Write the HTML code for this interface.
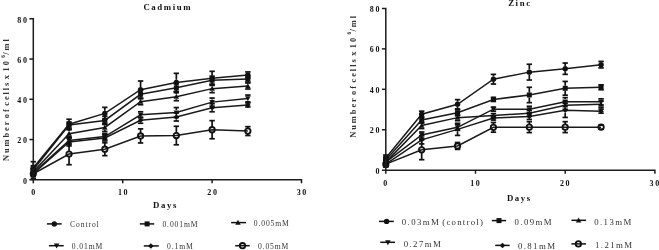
<!DOCTYPE html>
<html><head><meta charset="utf-8"><style>
html,body{margin:0;padding:0;background:#fff;width:659px;height:250px;overflow:hidden}
svg{display:block}
#wrap{width:659px;height:250px;will-change:transform}
text{font-family:"Liberation Serif", serif;fill:#111}
.tk{font-size:8px;font-weight:bold;letter-spacing:1.6px}
.ttl{font-size:8.8px;font-weight:bold;letter-spacing:1.6px}
.yl{font-size:8.4px;font-weight:bold;letter-spacing:1.95px;word-spacing:-2.5px;fill:#333}
.lg1{font-size:7.6px;letter-spacing:0.9px;fill:#333}
.lg2{font-size:8.8px;letter-spacing:1.4px;fill:#333}
</style></head><body>
<div id="wrap"><svg width="659" height="250" viewBox="0 0 659 250">
<rect width="659" height="250" fill="#fff"/>
<polyline points="33.30,167.73 69.06,124.25 104.82,113.39 140.58,89.64 176.34,82.40 212.10,78.37 247.86,74.95" fill="none" stroke="#1a1a1a" stroke-width="1.5"/>
<polyline points="33.30,169.74 69.06,125.06 104.82,120.43 140.58,94.27 176.34,87.83 212.10,80.18 247.86,78.97" fill="none" stroke="#1a1a1a" stroke-width="1.5"/>
<polyline points="33.30,171.75 69.06,133.71 104.82,127.48 140.58,101.72 176.34,96.68 212.10,88.63 247.86,86.02" fill="none" stroke="#1a1a1a" stroke-width="1.5"/>
<polyline points="33.30,172.76 69.06,140.56 104.82,136.53 140.58,114.80 176.34,112.58 212.10,102.12 247.86,98.50" fill="none" stroke="#1a1a1a" stroke-width="1.5"/>
<polyline points="33.30,173.76 69.06,141.97 104.82,137.94 140.58,120.23 176.34,117.01 212.10,107.75 247.86,104.94" fill="none" stroke="#1a1a1a" stroke-width="1.5"/>
<polyline points="33.30,173.76 69.06,154.04 104.82,149.21 140.58,135.93 176.34,135.53 212.10,129.69 247.86,131.10" fill="none" stroke="#1a1a1a" stroke-width="1.5"/>
<path d="M33.30,161.69 V165.13 M33.30,170.33 V173.76" stroke="#111" stroke-width="1.7" fill="none"/><line x1="30.60" y1="161.69" x2="36.00" y2="161.69" stroke="#111" stroke-width="1.7"/><line x1="30.60" y1="173.76" x2="36.00" y2="173.76" stroke="#111" stroke-width="1.7"/>
<path d="M69.06,119.22 V121.66 M69.06,126.85 V129.29" stroke="#111" stroke-width="1.7" fill="none"/><line x1="66.36" y1="119.22" x2="71.76" y2="119.22" stroke="#111" stroke-width="1.7"/><line x1="66.36" y1="129.29" x2="71.76" y2="129.29" stroke="#111" stroke-width="1.7"/>
<path d="M104.82,107.35 V110.79 M104.82,115.99 V119.43" stroke="#111" stroke-width="1.7" fill="none"/><line x1="102.12" y1="107.35" x2="107.52" y2="107.35" stroke="#111" stroke-width="1.7"/><line x1="102.12" y1="119.43" x2="107.52" y2="119.43" stroke="#111" stroke-width="1.7"/>
<path d="M140.58,80.99 V87.04 M140.58,92.24 V98.29" stroke="#111" stroke-width="1.7" fill="none"/><line x1="137.88" y1="80.99" x2="143.28" y2="80.99" stroke="#111" stroke-width="1.7"/><line x1="137.88" y1="98.29" x2="143.28" y2="98.29" stroke="#111" stroke-width="1.7"/>
<path d="M176.34,73.34 V79.80 M176.34,85.00 V91.45" stroke="#111" stroke-width="1.7" fill="none"/><line x1="173.64" y1="73.34" x2="179.04" y2="73.34" stroke="#111" stroke-width="1.7"/><line x1="173.64" y1="91.45" x2="179.04" y2="91.45" stroke="#111" stroke-width="1.7"/>
<path d="M212.10,71.33 V75.77 M212.10,80.97 V85.41" stroke="#111" stroke-width="1.7" fill="none"/><line x1="209.40" y1="71.33" x2="214.80" y2="71.33" stroke="#111" stroke-width="1.7"/><line x1="209.40" y1="85.41" x2="214.80" y2="85.41" stroke="#111" stroke-width="1.7"/>
<path d="M247.86,71.93 V72.35 M247.86,77.55 V77.97" stroke="#111" stroke-width="1.7" fill="none"/><line x1="245.16" y1="71.93" x2="250.56" y2="71.93" stroke="#111" stroke-width="1.7"/><line x1="245.16" y1="77.97" x2="250.56" y2="77.97" stroke="#111" stroke-width="1.7"/>
<path d="M33.30,165.71 V167.14 M33.30,172.34 V173.76" stroke="#111" stroke-width="1.7" fill="none"/><line x1="30.60" y1="165.71" x2="36.00" y2="165.71" stroke="#111" stroke-width="1.7"/><line x1="30.60" y1="173.76" x2="36.00" y2="173.76" stroke="#111" stroke-width="1.7"/>
<path d="M69.06,122.04 V122.46 M69.06,127.66 V128.08" stroke="#111" stroke-width="1.7" fill="none"/><line x1="66.36" y1="122.04" x2="71.76" y2="122.04" stroke="#111" stroke-width="1.7"/><line x1="66.36" y1="128.08" x2="71.76" y2="128.08" stroke="#111" stroke-width="1.7"/>
<path d="M104.82,116.41 V117.83 M104.82,123.03 V124.46" stroke="#111" stroke-width="1.7" fill="none"/><line x1="102.12" y1="116.41" x2="107.52" y2="116.41" stroke="#111" stroke-width="1.7"/><line x1="102.12" y1="124.46" x2="107.52" y2="124.46" stroke="#111" stroke-width="1.7"/>
<path d="M140.58,90.24 V91.67 M140.58,96.87 V98.29" stroke="#111" stroke-width="1.7" fill="none"/><line x1="137.88" y1="90.24" x2="143.28" y2="90.24" stroke="#111" stroke-width="1.7"/><line x1="137.88" y1="98.29" x2="143.28" y2="98.29" stroke="#111" stroke-width="1.7"/>
<path d="M176.34,83.80 V85.23 M176.34,90.43 V91.85" stroke="#111" stroke-width="1.7" fill="none"/><line x1="173.64" y1="83.80" x2="179.04" y2="83.80" stroke="#111" stroke-width="1.7"/><line x1="173.64" y1="91.85" x2="179.04" y2="91.85" stroke="#111" stroke-width="1.7"/>
<path d="M212.10,76.16 V77.58 M212.10,82.78 V84.21" stroke="#111" stroke-width="1.7" fill="none"/><line x1="209.40" y1="76.16" x2="214.80" y2="76.16" stroke="#111" stroke-width="1.7"/><line x1="209.40" y1="84.21" x2="214.80" y2="84.21" stroke="#111" stroke-width="1.7"/>
<path d="M247.86,75.95 V76.37 M247.86,81.57 V81.99" stroke="#111" stroke-width="1.7" fill="none"/><line x1="245.16" y1="75.95" x2="250.56" y2="75.95" stroke="#111" stroke-width="1.7"/><line x1="245.16" y1="81.99" x2="250.56" y2="81.99" stroke="#111" stroke-width="1.7"/>
<path d="M33.30,168.73 V169.15 M33.30,174.35 V174.77" stroke="#111" stroke-width="1.7" fill="none"/><line x1="30.60" y1="168.73" x2="36.00" y2="168.73" stroke="#111" stroke-width="1.7"/><line x1="30.60" y1="174.77" x2="36.00" y2="174.77" stroke="#111" stroke-width="1.7"/>
<path d="M69.06,129.69 V131.11 M69.06,136.31 V137.74" stroke="#111" stroke-width="1.7" fill="none"/><line x1="66.36" y1="129.69" x2="71.76" y2="129.69" stroke="#111" stroke-width="1.7"/><line x1="66.36" y1="137.74" x2="71.76" y2="137.74" stroke="#111" stroke-width="1.7"/>
<path d="M104.82,123.45 V124.88 M104.82,130.07 V131.50" stroke="#111" stroke-width="1.7" fill="none"/><line x1="102.12" y1="123.45" x2="107.52" y2="123.45" stroke="#111" stroke-width="1.7"/><line x1="102.12" y1="131.50" x2="107.52" y2="131.50" stroke="#111" stroke-width="1.7"/>
<path d="M140.58,98.70 V99.12 M140.58,104.31 V104.73" stroke="#111" stroke-width="1.7" fill="none"/><line x1="137.88" y1="98.70" x2="143.28" y2="98.70" stroke="#111" stroke-width="1.7"/><line x1="137.88" y1="104.73" x2="143.28" y2="104.73" stroke="#111" stroke-width="1.7"/>
<path d="M176.34,92.66 V94.08 M176.34,99.28 V100.71" stroke="#111" stroke-width="1.7" fill="none"/><line x1="173.64" y1="92.66" x2="179.04" y2="92.66" stroke="#111" stroke-width="1.7"/><line x1="173.64" y1="100.71" x2="179.04" y2="100.71" stroke="#111" stroke-width="1.7"/>
<path d="M212.10,84.61 V86.03 M212.10,91.23 V92.66" stroke="#111" stroke-width="1.7" fill="none"/><line x1="209.40" y1="84.61" x2="214.80" y2="84.61" stroke="#111" stroke-width="1.7"/><line x1="209.40" y1="92.66" x2="214.80" y2="92.66" stroke="#111" stroke-width="1.7"/>
<path d="M247.86,83.00 V83.42 M247.86,88.62 V89.04" stroke="#111" stroke-width="1.7" fill="none"/><line x1="245.16" y1="83.00" x2="250.56" y2="83.00" stroke="#111" stroke-width="1.7"/><line x1="245.16" y1="89.04" x2="250.56" y2="89.04" stroke="#111" stroke-width="1.7"/>
<path d="M33.30,169.74 V170.16 M33.30,175.36 V175.78" stroke="#111" stroke-width="1.7" fill="none"/><line x1="30.60" y1="169.74" x2="36.00" y2="169.74" stroke="#111" stroke-width="1.7"/><line x1="30.60" y1="175.78" x2="36.00" y2="175.78" stroke="#111" stroke-width="1.7"/>
<path d="M69.06,136.53 V137.96 M69.06,143.16 V144.58" stroke="#111" stroke-width="1.7" fill="none"/><line x1="66.36" y1="136.53" x2="71.76" y2="136.53" stroke="#111" stroke-width="1.7"/><line x1="66.36" y1="144.58" x2="71.76" y2="144.58" stroke="#111" stroke-width="1.7"/>
<path d="M104.82,133.51 V133.93 M104.82,139.13 V139.55" stroke="#111" stroke-width="1.7" fill="none"/><line x1="102.12" y1="133.51" x2="107.52" y2="133.51" stroke="#111" stroke-width="1.7"/><line x1="102.12" y1="139.55" x2="107.52" y2="139.55" stroke="#111" stroke-width="1.7"/>
<path d="M140.58,111.78 V112.20 M140.58,117.40 V117.82" stroke="#111" stroke-width="1.7" fill="none"/><line x1="137.88" y1="111.78" x2="143.28" y2="111.78" stroke="#111" stroke-width="1.7"/><line x1="137.88" y1="117.82" x2="143.28" y2="117.82" stroke="#111" stroke-width="1.7"/>
<path d="M176.34,107.55 V109.98 M176.34,115.18 V117.61" stroke="#111" stroke-width="1.7" fill="none"/><line x1="173.64" y1="107.55" x2="179.04" y2="107.55" stroke="#111" stroke-width="1.7"/><line x1="173.64" y1="117.61" x2="179.04" y2="117.61" stroke="#111" stroke-width="1.7"/>
<path d="M212.10,98.09 V99.52 M212.10,104.72 V106.14" stroke="#111" stroke-width="1.7" fill="none"/><line x1="209.40" y1="98.09" x2="214.80" y2="98.09" stroke="#111" stroke-width="1.7"/><line x1="209.40" y1="106.14" x2="214.80" y2="106.14" stroke="#111" stroke-width="1.7"/>
<path d="M247.86,95.07 V95.90 M247.86,101.09 V101.92" stroke="#111" stroke-width="1.7" fill="none"/><line x1="245.16" y1="95.07" x2="250.56" y2="95.07" stroke="#111" stroke-width="1.7"/><line x1="245.16" y1="101.92" x2="250.56" y2="101.92" stroke="#111" stroke-width="1.7"/>
<path d="M33.30,168.73 V171.16 M33.30,176.36 V178.79" stroke="#111" stroke-width="1.7" fill="none"/><line x1="30.60" y1="168.73" x2="36.00" y2="168.73" stroke="#111" stroke-width="1.7"/><line x1="30.60" y1="178.79" x2="36.00" y2="178.79" stroke="#111" stroke-width="1.7"/>
<path d="M69.06,137.94 V139.37 M69.06,144.56 V145.99" stroke="#111" stroke-width="1.7" fill="none"/><line x1="66.36" y1="137.94" x2="71.76" y2="137.94" stroke="#111" stroke-width="1.7"/><line x1="66.36" y1="145.99" x2="71.76" y2="145.99" stroke="#111" stroke-width="1.7"/>
<path d="M104.82,134.92 V135.34 M104.82,140.54 V140.96" stroke="#111" stroke-width="1.7" fill="none"/><line x1="102.12" y1="134.92" x2="107.52" y2="134.92" stroke="#111" stroke-width="1.7"/><line x1="102.12" y1="140.96" x2="107.52" y2="140.96" stroke="#111" stroke-width="1.7"/>
<path d="M140.58,117.21 V117.63 M140.58,122.83 V123.25" stroke="#111" stroke-width="1.7" fill="none"/><line x1="137.88" y1="117.21" x2="143.28" y2="117.21" stroke="#111" stroke-width="1.7"/><line x1="137.88" y1="123.25" x2="143.28" y2="123.25" stroke="#111" stroke-width="1.7"/>
<path d="M176.34,112.98 V114.41 M176.34,119.61 V121.04" stroke="#111" stroke-width="1.7" fill="none"/><line x1="173.64" y1="112.98" x2="179.04" y2="112.98" stroke="#111" stroke-width="1.7"/><line x1="173.64" y1="121.04" x2="179.04" y2="121.04" stroke="#111" stroke-width="1.7"/>
<path d="M212.10,103.73 V105.15 M212.10,110.35 V111.78" stroke="#111" stroke-width="1.7" fill="none"/><line x1="209.40" y1="103.73" x2="214.80" y2="103.73" stroke="#111" stroke-width="1.7"/><line x1="209.40" y1="111.78" x2="214.80" y2="111.78" stroke="#111" stroke-width="1.7"/>
<path d="M247.86,102.92 V102.34 M247.86,107.53 V106.95" stroke="#111" stroke-width="1.7" fill="none"/><line x1="245.16" y1="102.92" x2="250.56" y2="102.92" stroke="#111" stroke-width="1.7"/><line x1="245.16" y1="106.95" x2="250.56" y2="106.95" stroke="#111" stroke-width="1.7"/>
<path d="M33.30,170.74 V171.16 M33.30,176.36 V176.78" stroke="#111" stroke-width="1.7" fill="none"/><line x1="30.60" y1="170.74" x2="36.00" y2="170.74" stroke="#111" stroke-width="1.7"/><line x1="30.60" y1="176.78" x2="36.00" y2="176.78" stroke="#111" stroke-width="1.7"/>
<path d="M69.06,143.37 V151.44 M69.06,156.64 V164.71" stroke="#111" stroke-width="1.7" fill="none"/><line x1="66.36" y1="143.37" x2="71.76" y2="143.37" stroke="#111" stroke-width="1.7"/><line x1="66.36" y1="164.71" x2="71.76" y2="164.71" stroke="#111" stroke-width="1.7"/>
<path d="M104.82,142.77 V146.61 M104.82,151.81 V155.65" stroke="#111" stroke-width="1.7" fill="none"/><line x1="102.12" y1="142.77" x2="107.52" y2="142.77" stroke="#111" stroke-width="1.7"/><line x1="102.12" y1="155.65" x2="107.52" y2="155.65" stroke="#111" stroke-width="1.7"/>
<path d="M140.58,128.88 V133.33 M140.58,138.53 V142.97" stroke="#111" stroke-width="1.7" fill="none"/><line x1="137.88" y1="128.88" x2="143.28" y2="128.88" stroke="#111" stroke-width="1.7"/><line x1="137.88" y1="142.97" x2="143.28" y2="142.97" stroke="#111" stroke-width="1.7"/>
<path d="M176.34,126.27 V132.93 M176.34,138.13 V144.78" stroke="#111" stroke-width="1.7" fill="none"/><line x1="173.64" y1="126.27" x2="179.04" y2="126.27" stroke="#111" stroke-width="1.7"/><line x1="173.64" y1="144.78" x2="179.04" y2="144.78" stroke="#111" stroke-width="1.7"/>
<path d="M212.10,120.63 V127.09 M212.10,132.29 V138.75" stroke="#111" stroke-width="1.7" fill="none"/><line x1="209.40" y1="120.63" x2="214.80" y2="120.63" stroke="#111" stroke-width="1.7"/><line x1="209.40" y1="138.75" x2="214.80" y2="138.75" stroke="#111" stroke-width="1.7"/>
<path d="M247.86,126.67 V128.50 M247.86,133.70 V135.53" stroke="#111" stroke-width="1.7" fill="none"/><line x1="245.16" y1="126.67" x2="250.56" y2="126.67" stroke="#111" stroke-width="1.7"/><line x1="245.16" y1="135.53" x2="250.56" y2="135.53" stroke="#111" stroke-width="1.7"/>
<circle cx="33.30" cy="173.76" r="2.70" fill="none" stroke="#111" stroke-width="1.8"/>
<circle cx="69.06" cy="154.04" r="2.70" fill="none" stroke="#111" stroke-width="1.8"/>
<circle cx="104.82" cy="149.21" r="2.70" fill="none" stroke="#111" stroke-width="1.8"/>
<circle cx="140.58" cy="135.93" r="2.70" fill="none" stroke="#111" stroke-width="1.8"/>
<circle cx="176.34" cy="135.53" r="2.70" fill="none" stroke="#111" stroke-width="1.8"/>
<circle cx="212.10" cy="129.69" r="2.70" fill="none" stroke="#111" stroke-width="1.8"/>
<circle cx="247.86" cy="131.10" r="2.70" fill="none" stroke="#111" stroke-width="1.8"/>
<path d="M33.30,171.01 L36.05,173.76 L33.30,176.51 L30.55,173.76Z" fill="#111"/>
<path d="M69.06,139.22 L71.81,141.97 L69.06,144.72 L66.31,141.97Z" fill="#111"/>
<path d="M104.82,135.19 L107.57,137.94 L104.82,140.69 L102.07,137.94Z" fill="#111"/>
<path d="M140.58,117.48 L143.33,120.23 L140.58,122.98 L137.83,120.23Z" fill="#111"/>
<path d="M176.34,114.26 L179.09,117.01 L176.34,119.76 L173.59,117.01Z" fill="#111"/>
<path d="M212.10,105.00 L214.85,107.75 L212.10,110.50 L209.35,107.75Z" fill="#111"/>
<path d="M247.86,102.19 L250.61,104.94 L247.86,107.69 L245.11,104.94Z" fill="#111"/>
<path d="M33.30,175.63 L36.05,170.60 L30.55,170.60Z" fill="#111"/>
<path d="M69.06,143.43 L71.81,138.40 L66.31,138.40Z" fill="#111"/>
<path d="M104.82,139.41 L107.57,134.38 L102.07,134.38Z" fill="#111"/>
<path d="M140.58,117.67 L143.33,112.64 L137.83,112.64Z" fill="#111"/>
<path d="M176.34,115.46 L179.09,110.43 L173.59,110.43Z" fill="#111"/>
<path d="M212.10,104.99 L214.85,99.96 L209.35,99.96Z" fill="#111"/>
<path d="M247.86,101.37 L250.61,96.34 L245.11,96.34Z" fill="#111"/>
<path d="M33.30,168.88 L36.05,173.91 L30.55,173.91Z" fill="#111"/>
<path d="M69.06,130.84 L71.81,135.87 L66.31,135.87Z" fill="#111"/>
<path d="M104.82,124.60 L107.57,129.63 L102.07,129.63Z" fill="#111"/>
<path d="M140.58,98.84 L143.33,103.87 L137.83,103.87Z" fill="#111"/>
<path d="M176.34,93.81 L179.09,98.84 L173.59,98.84Z" fill="#111"/>
<path d="M212.10,85.76 L214.85,90.79 L209.35,90.79Z" fill="#111"/>
<path d="M247.86,83.14 L250.61,88.17 L245.11,88.17Z" fill="#111"/>
<rect x="30.80" y="167.24" width="5.00" height="5.00" fill="#111"/>
<rect x="66.56" y="122.56" width="5.00" height="5.00" fill="#111"/>
<rect x="102.32" y="117.93" width="5.00" height="5.00" fill="#111"/>
<rect x="138.08" y="91.77" width="5.00" height="5.00" fill="#111"/>
<rect x="173.84" y="85.33" width="5.00" height="5.00" fill="#111"/>
<rect x="209.60" y="77.68" width="5.00" height="5.00" fill="#111"/>
<rect x="245.36" y="76.47" width="5.00" height="5.00" fill="#111"/>
<circle cx="33.30" cy="167.73" r="2.70" fill="#111"/>
<circle cx="69.06" cy="124.25" r="2.70" fill="#111"/>
<circle cx="104.82" cy="113.39" r="2.70" fill="#111"/>
<circle cx="140.58" cy="89.64" r="2.70" fill="#111"/>
<circle cx="176.34" cy="82.40" r="2.70" fill="#111"/>
<circle cx="212.10" cy="78.37" r="2.70" fill="#111"/>
<circle cx="247.86" cy="74.95" r="2.70" fill="#111"/>
<path d="M29.40,18.80 H33.30 V179.80 H301.50 V183.30" fill="none" stroke="#1c1c1c" stroke-width="1.5"/>
<line x1="29.40" y1="179.80" x2="33.30" y2="179.80" stroke="#1c1c1c" stroke-width="1.5"/>
<line x1="29.40" y1="139.55" x2="33.30" y2="139.55" stroke="#1c1c1c" stroke-width="1.5"/>
<line x1="29.40" y1="99.30" x2="33.30" y2="99.30" stroke="#1c1c1c" stroke-width="1.5"/>
<line x1="29.40" y1="59.05" x2="33.30" y2="59.05" stroke="#1c1c1c" stroke-width="1.5"/>
<line x1="33.30" y1="179.80" x2="33.30" y2="183.30" stroke="#1c1c1c" stroke-width="1.5"/>
<line x1="122.70" y1="179.80" x2="122.70" y2="183.30" stroke="#1c1c1c" stroke-width="1.5"/>
<line x1="212.10" y1="179.80" x2="212.10" y2="183.30" stroke="#1c1c1c" stroke-width="1.5"/>
<text x="28.50" y="183.60" text-anchor="end" class="tk">0</text>
<text x="28.50" y="143.35" text-anchor="end" class="tk">20</text>
<text x="28.50" y="103.10" text-anchor="end" class="tk">40</text>
<text x="28.50" y="62.85" text-anchor="end" class="tk">60</text>
<text x="28.50" y="22.60" text-anchor="end" class="tk">80</text>
<text x="34.10" y="194.80" text-anchor="middle" class="tk">0</text>
<text x="123.50" y="194.80" text-anchor="middle" class="tk">10</text>
<text x="212.90" y="194.80" text-anchor="middle" class="tk">20</text>
<text x="302.30" y="194.80" text-anchor="middle" class="tk">30</text>
<text x="167.80" y="10.20" text-anchor="middle" class="ttl">Cadmium</text>
<text x="165.60" y="207.80" text-anchor="middle" class="ttl">Days</text>
<text transform="translate(9.30,161.06) rotate(-90)" class="yl">Number of cells x 10<tspan dx="1.3" dy="-4.8" font-size="5.2px">6</tspan><tspan dx="-1.4" dy="4.8">/ml</tspan></text>
<line x1="46.90" y1="223.90" x2="61.70" y2="223.90" stroke="#111" stroke-width="1.5"/>
<circle cx="54.30" cy="223.90" r="2.70" fill="#111"/>
<text x="70.10" y="226.80" class="lg1">Control</text>
<line x1="139.80" y1="223.90" x2="154.20" y2="223.90" stroke="#111" stroke-width="1.5"/>
<rect x="144.60" y="221.40" width="5.00" height="5.00" fill="#111"/>
<text x="162.40" y="227.00" class="lg1">0.001mM</text>
<line x1="231.10" y1="222.60" x2="246.00" y2="222.60" stroke="#111" stroke-width="1.5"/>
<path d="M238.00,219.72 L240.75,224.76 L235.25,224.76Z" fill="#111"/>
<text x="253.70" y="225.90" class="lg1">0.005mM</text>
<line x1="48.90" y1="245.70" x2="63.70" y2="245.70" stroke="#111" stroke-width="1.5"/>
<path d="M56.60,248.57 L59.35,243.54 L53.85,243.54Z" fill="#111"/>
<text x="71.80" y="249.00" class="lg1">0.01mM</text>
<line x1="143.80" y1="245.90" x2="158.80" y2="245.90" stroke="#111" stroke-width="1.5"/>
<path d="M150.90,243.15 L153.65,245.90 L150.90,248.65 L148.15,245.90Z" fill="#111"/>
<text x="167.00" y="249.00" class="lg1">0.1mM</text>
<line x1="235.20" y1="245.70" x2="249.70" y2="245.70" stroke="#111" stroke-width="1.5"/>
<circle cx="242.50" cy="245.70" r="2.70" fill="none" stroke="#111" stroke-width="1.8"/>
<text x="257.90" y="249.00" class="lg1">0.05mM</text>
<polyline points="385.80,158.07 421.68,114.19 457.56,104.28 493.44,79.21 529.32,72.13 565.20,68.70 601.08,64.65" fill="none" stroke="#1a1a1a" stroke-width="1.5"/>
<polyline points="385.80,160.09 421.68,120.05 457.56,112.78 493.44,99.43 529.32,94.98 565.20,88.31 601.08,87.30" fill="none" stroke="#1a1a1a" stroke-width="1.5"/>
<polyline points="385.80,162.11 421.68,125.51 457.56,117.63 493.44,115.61 529.32,113.18 565.20,105.29 601.08,104.28" fill="none" stroke="#1a1a1a" stroke-width="1.5"/>
<polyline points="385.80,162.11 421.68,135.02 457.56,127.33 493.44,109.14 529.32,109.34 565.20,101.65 601.08,101.86" fill="none" stroke="#1a1a1a" stroke-width="1.5"/>
<polyline points="385.80,164.13 421.68,139.87 457.56,129.36 493.44,118.03 529.32,116.41 565.20,110.35 601.08,111.16" fill="none" stroke="#1a1a1a" stroke-width="1.5"/>
<polyline points="385.80,164.13 421.68,149.78 457.56,145.94 493.44,127.33 529.32,127.13 565.20,127.13 601.08,127.13" fill="none" stroke="#1a1a1a" stroke-width="1.5"/>
<path d="M385.80,155.03 V155.47 M385.80,160.67 V161.10" stroke="#111" stroke-width="1.7" fill="none"/><line x1="383.10" y1="155.03" x2="388.50" y2="155.03" stroke="#111" stroke-width="1.7"/><line x1="383.10" y1="161.10" x2="388.50" y2="161.10" stroke="#111" stroke-width="1.7"/>
<path d="M421.68,111.16 V111.59 M421.68,116.79 V117.22" stroke="#111" stroke-width="1.7" fill="none"/><line x1="418.98" y1="111.16" x2="424.38" y2="111.16" stroke="#111" stroke-width="1.7"/><line x1="418.98" y1="117.22" x2="424.38" y2="117.22" stroke="#111" stroke-width="1.7"/>
<path d="M457.56,99.63 V101.68 M457.56,106.88 V108.93" stroke="#111" stroke-width="1.7" fill="none"/><line x1="454.86" y1="99.63" x2="460.26" y2="99.63" stroke="#111" stroke-width="1.7"/><line x1="454.86" y1="108.93" x2="460.26" y2="108.93" stroke="#111" stroke-width="1.7"/>
<path d="M493.44,74.36 V76.61 M493.44,81.81 V84.06" stroke="#111" stroke-width="1.7" fill="none"/><line x1="490.74" y1="74.36" x2="496.14" y2="74.36" stroke="#111" stroke-width="1.7"/><line x1="490.74" y1="84.06" x2="496.14" y2="84.06" stroke="#111" stroke-width="1.7"/>
<path d="M529.32,64.25 V69.53 M529.32,74.73 V80.02" stroke="#111" stroke-width="1.7" fill="none"/><line x1="526.62" y1="64.25" x2="532.02" y2="64.25" stroke="#111" stroke-width="1.7"/><line x1="526.62" y1="80.02" x2="532.02" y2="80.02" stroke="#111" stroke-width="1.7"/>
<path d="M565.20,63.03 V66.10 M565.20,71.30 V74.36" stroke="#111" stroke-width="1.7" fill="none"/><line x1="562.50" y1="63.03" x2="567.90" y2="63.03" stroke="#111" stroke-width="1.7"/><line x1="562.50" y1="74.36" x2="567.90" y2="74.36" stroke="#111" stroke-width="1.7"/>
<path d="M601.08,61.42 V62.05 M601.08,67.25 V67.89" stroke="#111" stroke-width="1.7" fill="none"/><line x1="598.38" y1="61.42" x2="603.78" y2="61.42" stroke="#111" stroke-width="1.7"/><line x1="598.38" y1="67.89" x2="603.78" y2="67.89" stroke="#111" stroke-width="1.7"/>
<path d="M385.80,157.06 V157.49 M385.80,162.69 V163.12" stroke="#111" stroke-width="1.7" fill="none"/><line x1="383.10" y1="157.06" x2="388.50" y2="157.06" stroke="#111" stroke-width="1.7"/><line x1="383.10" y1="163.12" x2="388.50" y2="163.12" stroke="#111" stroke-width="1.7"/>
<path d="M421.68,117.02 V117.45 M421.68,122.65 V123.09" stroke="#111" stroke-width="1.7" fill="none"/><line x1="418.98" y1="117.02" x2="424.38" y2="117.02" stroke="#111" stroke-width="1.7"/><line x1="418.98" y1="123.09" x2="424.38" y2="123.09" stroke="#111" stroke-width="1.7"/>
<path d="M457.56,109.74 V110.18 M457.56,115.38 V115.81" stroke="#111" stroke-width="1.7" fill="none"/><line x1="454.86" y1="109.74" x2="460.26" y2="109.74" stroke="#111" stroke-width="1.7"/><line x1="454.86" y1="115.81" x2="460.26" y2="115.81" stroke="#111" stroke-width="1.7"/>
<path d="M493.44,97.41 V96.83 M493.44,102.03 V101.45" stroke="#111" stroke-width="1.7" fill="none"/><line x1="490.74" y1="97.41" x2="496.14" y2="97.41" stroke="#111" stroke-width="1.7"/><line x1="490.74" y1="101.45" x2="496.14" y2="101.45" stroke="#111" stroke-width="1.7"/>
<path d="M529.32,87.30 V92.38 M529.32,97.58 V102.67" stroke="#111" stroke-width="1.7" fill="none"/><line x1="526.62" y1="87.30" x2="532.02" y2="87.30" stroke="#111" stroke-width="1.7"/><line x1="526.62" y1="102.67" x2="532.02" y2="102.67" stroke="#111" stroke-width="1.7"/>
<path d="M565.20,81.43 V85.71 M565.20,90.91 V95.18" stroke="#111" stroke-width="1.7" fill="none"/><line x1="562.50" y1="81.43" x2="567.90" y2="81.43" stroke="#111" stroke-width="1.7"/><line x1="562.50" y1="95.18" x2="567.90" y2="95.18" stroke="#111" stroke-width="1.7"/>
<path d="M601.08,84.87 V84.70 M601.08,89.90 V89.72" stroke="#111" stroke-width="1.7" fill="none"/><line x1="598.38" y1="84.87" x2="603.78" y2="84.87" stroke="#111" stroke-width="1.7"/><line x1="598.38" y1="89.72" x2="603.78" y2="89.72" stroke="#111" stroke-width="1.7"/>
<path d="M385.80,160.09 V159.51 M385.80,164.71 V164.13" stroke="#111" stroke-width="1.7" fill="none"/><line x1="383.10" y1="160.09" x2="388.50" y2="160.09" stroke="#111" stroke-width="1.7"/><line x1="383.10" y1="164.13" x2="388.50" y2="164.13" stroke="#111" stroke-width="1.7"/>
<path d="M421.68,122.48 V122.91 M421.68,128.11 V128.55" stroke="#111" stroke-width="1.7" fill="none"/><line x1="418.98" y1="122.48" x2="424.38" y2="122.48" stroke="#111" stroke-width="1.7"/><line x1="418.98" y1="128.55" x2="424.38" y2="128.55" stroke="#111" stroke-width="1.7"/>
<path d="M457.56,114.59 V115.03 M457.56,120.23 V120.66" stroke="#111" stroke-width="1.7" fill="none"/><line x1="454.86" y1="114.59" x2="460.26" y2="114.59" stroke="#111" stroke-width="1.7"/><line x1="454.86" y1="120.66" x2="460.26" y2="120.66" stroke="#111" stroke-width="1.7"/>
<path d="M493.44,113.58 V113.01 M493.44,118.21 V117.63" stroke="#111" stroke-width="1.7" fill="none"/><line x1="490.74" y1="113.58" x2="496.14" y2="113.58" stroke="#111" stroke-width="1.7"/><line x1="490.74" y1="117.63" x2="496.14" y2="117.63" stroke="#111" stroke-width="1.7"/>
<path d="M529.32,110.15 V110.58 M529.32,115.78 V116.21" stroke="#111" stroke-width="1.7" fill="none"/><line x1="526.62" y1="110.15" x2="532.02" y2="110.15" stroke="#111" stroke-width="1.7"/><line x1="526.62" y1="116.21" x2="532.02" y2="116.21" stroke="#111" stroke-width="1.7"/>
<path d="M565.20,101.25 V102.69 M565.20,107.89 V109.34" stroke="#111" stroke-width="1.7" fill="none"/><line x1="562.50" y1="101.25" x2="567.90" y2="101.25" stroke="#111" stroke-width="1.7"/><line x1="562.50" y1="109.34" x2="567.90" y2="109.34" stroke="#111" stroke-width="1.7"/>
<path d="M601.08,101.25 V101.68 M601.08,106.88 V107.32" stroke="#111" stroke-width="1.7" fill="none"/><line x1="598.38" y1="101.25" x2="603.78" y2="101.25" stroke="#111" stroke-width="1.7"/><line x1="598.38" y1="107.32" x2="603.78" y2="107.32" stroke="#111" stroke-width="1.7"/>
<path d="M385.80,160.09 V159.51 M385.80,164.71 V164.13" stroke="#111" stroke-width="1.7" fill="none"/><line x1="383.10" y1="160.09" x2="388.50" y2="160.09" stroke="#111" stroke-width="1.7"/><line x1="383.10" y1="164.13" x2="388.50" y2="164.13" stroke="#111" stroke-width="1.7"/>
<path d="M421.68,131.98 V132.42 M421.68,137.62 V138.05" stroke="#111" stroke-width="1.7" fill="none"/><line x1="418.98" y1="131.98" x2="424.38" y2="131.98" stroke="#111" stroke-width="1.7"/><line x1="418.98" y1="138.05" x2="424.38" y2="138.05" stroke="#111" stroke-width="1.7"/>
<path d="M457.56,124.30 V124.73 M457.56,129.93 V130.37" stroke="#111" stroke-width="1.7" fill="none"/><line x1="454.86" y1="124.30" x2="460.26" y2="124.30" stroke="#111" stroke-width="1.7"/><line x1="454.86" y1="130.37" x2="460.26" y2="130.37" stroke="#111" stroke-width="1.7"/>
<path d="M493.44,107.11 V106.54 M493.44,111.74 V111.16" stroke="#111" stroke-width="1.7" fill="none"/><line x1="490.74" y1="107.11" x2="496.14" y2="107.11" stroke="#111" stroke-width="1.7"/><line x1="490.74" y1="111.16" x2="496.14" y2="111.16" stroke="#111" stroke-width="1.7"/>
<path d="M529.32,106.30 V106.74 M529.32,111.94 V112.37" stroke="#111" stroke-width="1.7" fill="none"/><line x1="526.62" y1="106.30" x2="532.02" y2="106.30" stroke="#111" stroke-width="1.7"/><line x1="526.62" y1="112.37" x2="532.02" y2="112.37" stroke="#111" stroke-width="1.7"/>
<path d="M565.20,97.61 V99.05 M565.20,104.25 V105.70" stroke="#111" stroke-width="1.7" fill="none"/><line x1="562.50" y1="97.61" x2="567.90" y2="97.61" stroke="#111" stroke-width="1.7"/><line x1="562.50" y1="105.70" x2="567.90" y2="105.70" stroke="#111" stroke-width="1.7"/>
<path d="M601.08,98.82 V99.26 M601.08,104.46 V104.89" stroke="#111" stroke-width="1.7" fill="none"/><line x1="598.38" y1="98.82" x2="603.78" y2="98.82" stroke="#111" stroke-width="1.7"/><line x1="598.38" y1="104.89" x2="603.78" y2="104.89" stroke="#111" stroke-width="1.7"/>
<path d="M385.80,162.11 V161.53 M385.80,166.73 V166.16" stroke="#111" stroke-width="1.7" fill="none"/><line x1="383.10" y1="162.11" x2="388.50" y2="162.11" stroke="#111" stroke-width="1.7"/><line x1="383.10" y1="166.16" x2="388.50" y2="166.16" stroke="#111" stroke-width="1.7"/>
<path d="M421.68,135.83 V137.27 M421.68,142.47 V143.91" stroke="#111" stroke-width="1.7" fill="none"/><line x1="418.98" y1="135.83" x2="424.38" y2="135.83" stroke="#111" stroke-width="1.7"/><line x1="418.98" y1="143.91" x2="424.38" y2="143.91" stroke="#111" stroke-width="1.7"/>
<path d="M457.56,123.29 V126.76 M457.56,131.96 V135.42" stroke="#111" stroke-width="1.7" fill="none"/><line x1="454.86" y1="123.29" x2="460.26" y2="123.29" stroke="#111" stroke-width="1.7"/><line x1="454.86" y1="135.42" x2="460.26" y2="135.42" stroke="#111" stroke-width="1.7"/>
<path d="M493.44,116.01 V115.43 M493.44,120.63 V120.05" stroke="#111" stroke-width="1.7" fill="none"/><line x1="490.74" y1="116.01" x2="496.14" y2="116.01" stroke="#111" stroke-width="1.7"/><line x1="490.74" y1="120.05" x2="496.14" y2="120.05" stroke="#111" stroke-width="1.7"/>
<path d="M529.32,113.38 V113.81 M529.32,119.01 V119.45" stroke="#111" stroke-width="1.7" fill="none"/><line x1="526.62" y1="113.38" x2="532.02" y2="113.38" stroke="#111" stroke-width="1.7"/><line x1="526.62" y1="119.45" x2="532.02" y2="119.45" stroke="#111" stroke-width="1.7"/>
<path d="M565.20,103.27 V107.75 M565.20,112.95 V117.43" stroke="#111" stroke-width="1.7" fill="none"/><line x1="562.50" y1="103.27" x2="567.90" y2="103.27" stroke="#111" stroke-width="1.7"/><line x1="562.50" y1="117.43" x2="567.90" y2="117.43" stroke="#111" stroke-width="1.7"/>
<path d="M601.08,109.14 V108.56 M601.08,113.76 V113.18" stroke="#111" stroke-width="1.7" fill="none"/><line x1="598.38" y1="109.14" x2="603.78" y2="109.14" stroke="#111" stroke-width="1.7"/><line x1="598.38" y1="113.18" x2="603.78" y2="113.18" stroke="#111" stroke-width="1.7"/>
<path d="M385.80,161.10 V161.53 M385.80,166.73 V167.17" stroke="#111" stroke-width="1.7" fill="none"/><line x1="383.10" y1="161.10" x2="388.50" y2="161.10" stroke="#111" stroke-width="1.7"/><line x1="383.10" y1="167.17" x2="388.50" y2="167.17" stroke="#111" stroke-width="1.7"/>
<path d="M421.68,139.87 V147.18 M421.68,152.38 V159.69" stroke="#111" stroke-width="1.7" fill="none"/><line x1="418.98" y1="139.87" x2="424.38" y2="139.87" stroke="#111" stroke-width="1.7"/><line x1="418.98" y1="159.69" x2="424.38" y2="159.69" stroke="#111" stroke-width="1.7"/>
<path d="M457.56,142.50 V143.34 M457.56,148.54 V149.37" stroke="#111" stroke-width="1.7" fill="none"/><line x1="454.86" y1="142.50" x2="460.26" y2="142.50" stroke="#111" stroke-width="1.7"/><line x1="454.86" y1="149.37" x2="460.26" y2="149.37" stroke="#111" stroke-width="1.7"/>
<path d="M493.44,122.48 V124.73 M493.44,129.93 V132.19" stroke="#111" stroke-width="1.7" fill="none"/><line x1="490.74" y1="122.48" x2="496.14" y2="122.48" stroke="#111" stroke-width="1.7"/><line x1="490.74" y1="132.19" x2="496.14" y2="132.19" stroke="#111" stroke-width="1.7"/>
<path d="M529.32,121.67 V124.53 M529.32,129.73 V132.59" stroke="#111" stroke-width="1.7" fill="none"/><line x1="526.62" y1="121.67" x2="532.02" y2="121.67" stroke="#111" stroke-width="1.7"/><line x1="526.62" y1="132.59" x2="532.02" y2="132.59" stroke="#111" stroke-width="1.7"/>
<path d="M565.20,121.67 V124.53 M565.20,129.73 V132.59" stroke="#111" stroke-width="1.7" fill="none"/><line x1="562.50" y1="121.67" x2="567.90" y2="121.67" stroke="#111" stroke-width="1.7"/><line x1="562.50" y1="132.59" x2="567.90" y2="132.59" stroke="#111" stroke-width="1.7"/>
<path d="M601.08,125.11 V124.53 M601.08,129.73 V129.15" stroke="#111" stroke-width="1.7" fill="none"/><line x1="598.38" y1="125.11" x2="603.78" y2="125.11" stroke="#111" stroke-width="1.7"/><line x1="598.38" y1="129.15" x2="603.78" y2="129.15" stroke="#111" stroke-width="1.7"/>
<circle cx="385.80" cy="164.13" r="2.70" fill="none" stroke="#111" stroke-width="1.8"/>
<circle cx="421.68" cy="149.78" r="2.70" fill="none" stroke="#111" stroke-width="1.8"/>
<circle cx="457.56" cy="145.94" r="2.70" fill="none" stroke="#111" stroke-width="1.8"/>
<circle cx="493.44" cy="127.33" r="2.70" fill="none" stroke="#111" stroke-width="1.8"/>
<circle cx="529.32" cy="127.13" r="2.70" fill="none" stroke="#111" stroke-width="1.8"/>
<circle cx="565.20" cy="127.13" r="2.70" fill="none" stroke="#111" stroke-width="1.8"/>
<circle cx="601.08" cy="127.13" r="2.70" fill="none" stroke="#111" stroke-width="1.8"/>
<path d="M385.80,161.38 L388.55,164.13 L385.80,166.88 L383.05,164.13Z" fill="#111"/>
<path d="M421.68,137.12 L424.43,139.87 L421.68,142.62 L418.93,139.87Z" fill="#111"/>
<path d="M457.56,126.61 L460.31,129.36 L457.56,132.11 L454.81,129.36Z" fill="#111"/>
<path d="M493.44,115.28 L496.19,118.03 L493.44,120.78 L490.69,118.03Z" fill="#111"/>
<path d="M529.32,113.66 L532.07,116.41 L529.32,119.16 L526.57,116.41Z" fill="#111"/>
<path d="M565.20,107.60 L567.95,110.35 L565.20,113.10 L562.45,110.35Z" fill="#111"/>
<path d="M601.08,108.41 L603.83,111.16 L601.08,113.91 L598.33,111.16Z" fill="#111"/>
<path d="M385.80,164.99 L388.55,159.96 L383.05,159.96Z" fill="#111"/>
<path d="M421.68,137.89 L424.43,132.86 L418.93,132.86Z" fill="#111"/>
<path d="M457.56,130.21 L460.31,125.18 L454.81,125.18Z" fill="#111"/>
<path d="M493.44,112.01 L496.19,106.98 L490.69,106.98Z" fill="#111"/>
<path d="M529.32,112.21 L532.07,107.18 L526.57,107.18Z" fill="#111"/>
<path d="M565.20,104.53 L567.95,99.50 L562.45,99.50Z" fill="#111"/>
<path d="M601.08,104.73 L603.83,99.70 L598.33,99.70Z" fill="#111"/>
<path d="M385.80,159.24 L388.55,164.27 L383.05,164.27Z" fill="#111"/>
<path d="M421.68,122.64 L424.43,127.67 L418.93,127.67Z" fill="#111"/>
<path d="M457.56,114.75 L460.31,119.78 L454.81,119.78Z" fill="#111"/>
<path d="M493.44,112.73 L496.19,117.76 L490.69,117.76Z" fill="#111"/>
<path d="M529.32,110.30 L532.07,115.34 L526.57,115.34Z" fill="#111"/>
<path d="M565.20,102.42 L567.95,107.45 L562.45,107.45Z" fill="#111"/>
<path d="M601.08,101.41 L603.83,106.44 L598.33,106.44Z" fill="#111"/>
<rect x="383.30" y="157.59" width="5.00" height="5.00" fill="#111"/>
<rect x="419.18" y="117.55" width="5.00" height="5.00" fill="#111"/>
<rect x="455.06" y="110.28" width="5.00" height="5.00" fill="#111"/>
<rect x="490.94" y="96.93" width="5.00" height="5.00" fill="#111"/>
<rect x="526.82" y="92.48" width="5.00" height="5.00" fill="#111"/>
<rect x="562.70" y="85.81" width="5.00" height="5.00" fill="#111"/>
<rect x="598.58" y="84.80" width="5.00" height="5.00" fill="#111"/>
<circle cx="385.80" cy="158.07" r="2.70" fill="#111"/>
<circle cx="421.68" cy="114.19" r="2.70" fill="#111"/>
<circle cx="457.56" cy="104.28" r="2.70" fill="#111"/>
<circle cx="493.44" cy="79.21" r="2.70" fill="#111"/>
<circle cx="529.32" cy="72.13" r="2.70" fill="#111"/>
<circle cx="565.20" cy="68.70" r="2.70" fill="#111"/>
<circle cx="601.08" cy="64.65" r="2.70" fill="#111"/>
<path d="M381.90,8.44 H385.80 V170.20 H654.90 V173.70" fill="none" stroke="#1c1c1c" stroke-width="1.5"/>
<line x1="381.90" y1="170.20" x2="385.80" y2="170.20" stroke="#1c1c1c" stroke-width="1.5"/>
<line x1="381.90" y1="129.76" x2="385.80" y2="129.76" stroke="#1c1c1c" stroke-width="1.5"/>
<line x1="381.90" y1="89.32" x2="385.80" y2="89.32" stroke="#1c1c1c" stroke-width="1.5"/>
<line x1="381.90" y1="48.88" x2="385.80" y2="48.88" stroke="#1c1c1c" stroke-width="1.5"/>
<line x1="385.80" y1="170.20" x2="385.80" y2="173.70" stroke="#1c1c1c" stroke-width="1.5"/>
<line x1="475.50" y1="170.20" x2="475.50" y2="173.70" stroke="#1c1c1c" stroke-width="1.5"/>
<line x1="565.20" y1="170.20" x2="565.20" y2="173.70" stroke="#1c1c1c" stroke-width="1.5"/>
<text x="381.00" y="173.80" text-anchor="end" class="tk">0</text>
<text x="381.00" y="133.36" text-anchor="end" class="tk">20</text>
<text x="381.00" y="92.92" text-anchor="end" class="tk">40</text>
<text x="381.00" y="52.48" text-anchor="end" class="tk">60</text>
<text x="381.00" y="12.04" text-anchor="end" class="tk">80</text>
<text x="386.10" y="185.60" text-anchor="middle" class="tk">0</text>
<text x="475.80" y="185.60" text-anchor="middle" class="tk">10</text>
<text x="565.50" y="185.60" text-anchor="middle" class="tk">20</text>
<text x="655.20" y="185.60" text-anchor="middle" class="tk">30</text>
<text x="519.90" y="6.00" text-anchor="middle" class="ttl">Zinc</text>
<text x="519.40" y="200.80" text-anchor="middle" class="ttl">Days</text>
<text transform="translate(356.00,137.76) rotate(-90)" class="yl">Number of cells x 10<tspan dx="1.3" dy="-4.8" font-size="5.2px">6</tspan><tspan dx="-1.4" dy="4.8">/ml</tspan></text>
<line x1="379.00" y1="221.40" x2="393.80" y2="221.40" stroke="#111" stroke-width="1.5"/>
<circle cx="386.60" cy="221.40" r="2.70" fill="#111"/>
<text x="401.80" y="225.20" class="lg2">0.03mM<tspan style="letter-spacing:1.25px;word-spacing:-1.5px"> (control)</tspan></text>
<line x1="491.80" y1="220.60" x2="506.10" y2="220.60" stroke="#111" stroke-width="1.5"/>
<rect x="496.50" y="218.10" width="5.00" height="5.00" fill="#111"/>
<text x="514.60" y="224.90" class="lg2">0.09mM</text>
<line x1="571.40" y1="220.30" x2="586.10" y2="220.30" stroke="#111" stroke-width="1.5"/>
<path d="M578.60,217.43 L581.35,222.46 L575.85,222.46Z" fill="#111"/>
<text x="594.20" y="224.60" class="lg2">0.13mM</text>
<line x1="380.30" y1="242.30" x2="395.00" y2="242.30" stroke="#111" stroke-width="1.5"/>
<path d="M387.90,245.18 L390.65,240.14 L385.15,240.14Z" fill="#111"/>
<text x="403.70" y="246.90" class="lg2">0.27mM</text>
<line x1="495.20" y1="245.40" x2="509.60" y2="245.40" stroke="#111" stroke-width="1.5"/>
<path d="M502.50,242.65 L505.25,245.40 L502.50,248.15 L499.75,245.40Z" fill="#111"/>
<text x="517.90" y="248.70" class="lg2">0.81mM</text>
<line x1="571.40" y1="243.90" x2="586.00" y2="243.90" stroke="#111" stroke-width="1.5"/>
<circle cx="578.40" cy="243.90" r="2.70" fill="none" stroke="#111" stroke-width="1.8"/>
<text x="595.00" y="247.50" class="lg2">1.21mM</text>
</svg></div>
</body></html>
